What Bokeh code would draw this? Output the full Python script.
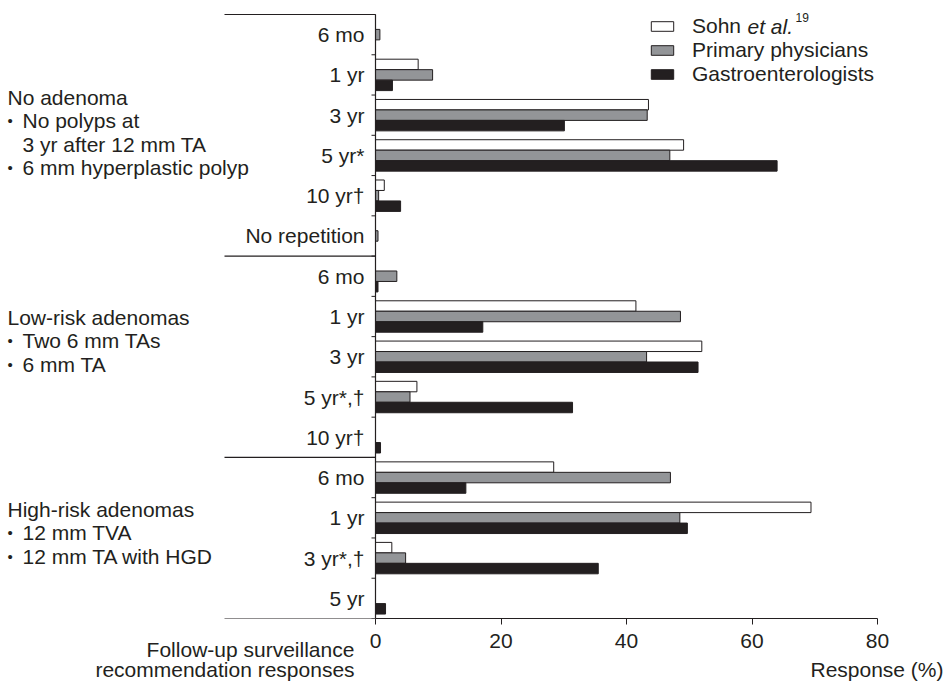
import numpy as np
from bokeh.plotting import figure
from bokeh.models import Range1d, FixedTicker, Label, Legend, LegendItem, LinearAxis
from bokeh.core.properties import value
from bokeh.embed import file_html
from bokeh.resources import INLINE

# ---------------- data ----------------
row_labels = ["6 mo", "1 yr", "3 yr", "5 yr*", "10 yr\u2020", "No repetition",
              "6 mo", "1 yr", "3 yr", "5 yr*,\u2020", "10 yr\u2020",
              "6 mo", "1 yr", "3 yr*,\u2020", "5 yr"]
group_sizes = [6, 5, 4]
# (kind, text): kind "t" = title, "b" = bulleted item, "c" = continuation line
group_lines = [
    [("t", "No adenoma"), ("b", "No polyps at"), ("c", "3 yr after 12 mm TA"), ("b", "6 mm hyperplastic polyp")],
    [("t", "Low-risk adenomas"), ("b", "Two 6 mm TAs"), ("b", "6 mm TA")],
    [("t", "High-risk adenomas"), ("b", "12 mm TVA"), ("b", "12 mm TA with HGD")],
]
sohn = [0, 6.8, 43.5, 49.1, 1.4, 0,
        0, 41.5, 52.0, 6.6, 0,
        28.4, 69.4, 2.6, 0]
primary = [0.7, 9.1, 43.3, 46.9, 0.5, 0.4,
           3.4, 48.6, 43.2, 5.5, 0,
           47.0, 48.5, 4.8, 0]
gastro = [0, 2.7, 30.1, 64.0, 4.0, 0,
          0.4, 17.1, 51.4, 31.4, 0.8,
          14.4, 49.7, 35.5, 1.6]
series_names = ["Sohn", "Primary physicians", "Gastroenterologists"]
x_ticks = [0, 20, 40, 60, 80]
x_title = "Response (%)"
y_title = ["Follow-up surveillance", "recommendation responses"]

# ---------------- style / layout ----------------
DARK = "#231f20"
GRAY = "#939598"
FONT = "Liberation Sans"
FS = "21px"

W, H = 946, 684
ZERO = 375.0          # pixel x of value 0
PXU = 6.275           # pixels per percent
TOP_ROWS = 14.0       # pixel y where the rows start
FRAME_B = 618         # pixel y of the x axis
n = len(row_labels)
ROW_PX = (FRAME_B - TOP_ROWS) / n

def xd(px):
    return (px - ZERO) / PXU

def yd(py):
    return (py - TOP_ROWS) / ROW_PX

p = figure(width=W, height=H,
           x_range=Range1d(xd(0), xd(W)), y_range=Range1d(n, yd(0)),
           output_backend="svg", toolbar_location=None, title=None,
           y_axis_location=None,
           min_border_left=0, min_border_right=0, min_border_top=0,
           min_border_bottom=H - FRAME_B)
p.outline_line_color = None
p.grid.visible = False
p.background_fill_color = "white"
p.border_fill_color = "white"

centers = np.arange(n) + 0.5
bh = 0.26
off = 0.26
r1 = p.hbar(y=centers - off, left=0, right=sohn, height=bh,
            fill_color="white", line_color=DARK, line_width=1)
r2 = p.hbar(y=centers, left=0, right=primary, height=bh,
            fill_color=GRAY, line_color=DARK, line_width=1)
r3 = p.hbar(y=centers + off, left=0, right=gastro, height=bh,
            fill_color=DARK, line_color=DARK, line_width=1)

# category axis (line, boundary ticks, labels)
bounds_all = np.arange(n + 1)
p.segment(x0=[0], y0=[0], x1=[0], y1=[n], line_color=DARK, line_width=1.2)
p.segment(x0=xd(ZERO - 4), y0=bounds_all, x1=0, y1=bounds_all, line_color=DARK, line_width=1)
p.text(x=np.zeros(n), y=centers, text=row_labels, x_offset=-11,
       text_align="right", text_baseline="middle",
       text_font=value(FONT), text_font_size=value(FS), text_color=DARK)

# group separators
gb = np.concatenate([[0], np.cumsum(group_sizes)])
p.segment(x0=xd(224), y0=gb, x1=0, y1=gb, line_color=DARK, line_width=1.2)

# group descriptions
first_line_px = [97, 317, 509]
line_step = 23.3
tx, ty, tt, bx, by = [], [], [], [], []
for g, lines in enumerate(group_lines):
    for k, (kind, txt) in enumerate(lines):
        yy = yd(first_line_px[g] + k * line_step)
        tx.append(xd(7) if kind == "t" else xd(22))
        ty.append(yy)
        tt.append(txt)
        if kind == "b":
            bx.append(xd(7))
            by.append(yy)
p.text(x=tx, y=ty, text=tt, text_align="left", text_baseline="middle",
       text_font=value(FONT), text_font_size=value(FS), text_color=DARK)
p.text(x=bx, y=by, text=["\u2022"] * len(bx), text_align="left", text_baseline="middle",
       text_font=value(FONT), text_font_size=value("15px"), text_color=DARK)

# x axis
xax = p.xaxis[0]
xax.bounds = (0, 80)
xax.ticker = FixedTicker(ticks=x_ticks)
xax.minor_tick_line_color = None
xax.minor_tick_out = 0
xax.major_tick_out = 6
xax.major_tick_in = 0
xax.major_tick_line_color = DARK
xax.axis_line_color = DARK
xax.axis_line_width = 1.2
xax.major_label_standoff = 9
xax.major_label_text_font = FONT
xax.major_label_text_font_size = FS
xax.major_label_text_color = DARK

# titles below the axis, carried by label-only axes
def text_axis(positions, texts, standoff):
    ax = LinearAxis(ticker=FixedTicker(ticks=positions),
                    major_label_overrides={pos: t for pos, t in zip(positions, texts)},
                    axis_line_color=None, major_tick_line_color=None, minor_tick_line_color=None,
                    major_tick_out=0, major_tick_in=0, minor_tick_out=0, minor_tick_in=0,
                    major_label_standoff=standoff,
                    major_label_text_font=FONT, major_label_text_font_size=FS,
                    major_label_text_color=DARK)
    p.add_layout(ax, "below")
    return ax

text_axis([xd(250.0)], [y_title[0]], -13)
text_axis([xd(224.5), xd(876.5)], [y_title[1], x_title], -6)

# legend
legend = Legend(items=[LegendItem(label=series_names[0], renderers=[r1]),
                       LegendItem(label=series_names[1], renderers=[r2]),
                       LegendItem(label=series_names[2], renderers=[r3])],
                location=(648, FRAME_B - 86), glyph_width=28, glyph_height=12,
                label_height=22, spacing=0, padding=0, margin=0,
                label_standoff=16, border_line_color=None, background_fill_alpha=0,
                label_text_font=FONT, label_text_font_size=FS, label_text_color=DARK)
p.add_layout(legend)
p.add_layout(Label(x=xd(747), y=yd(26), text="et al.", text_font=FONT, text_font_size=FS,
                   text_font_style="italic", text_color=DARK, text_baseline="middle",
                   text_align="left"))
p.add_layout(Label(x=xd(795), y=yd(16.5), text="19", text_font=FONT, text_font_size="12px",
                   text_color=DARK, text_baseline="middle", text_align="left"))

open("out.html", "w").write(file_html(p, INLINE))
